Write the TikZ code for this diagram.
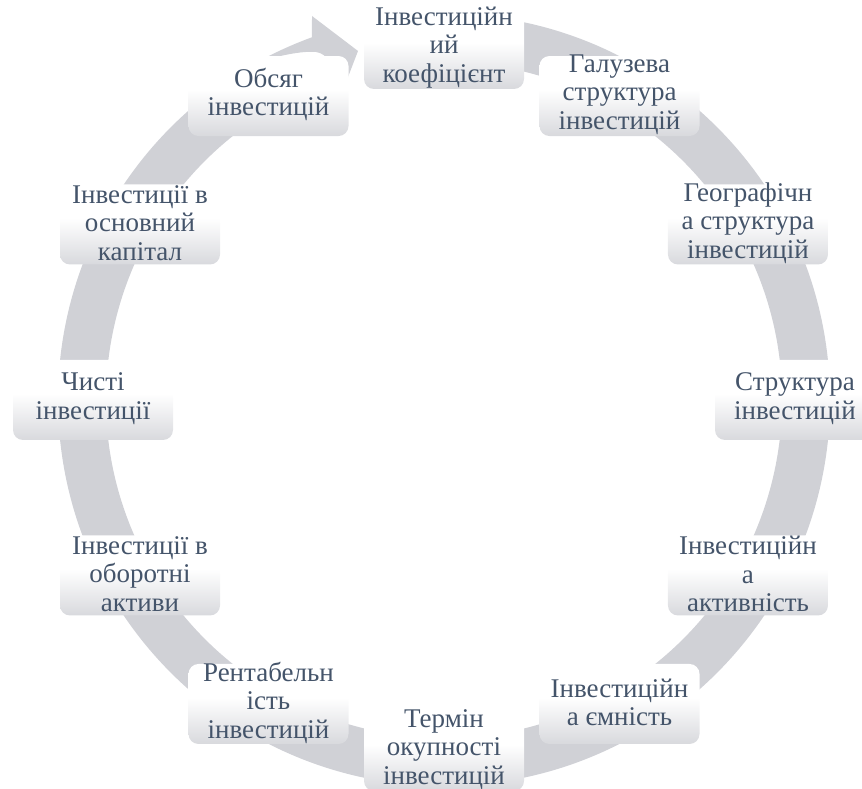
\documentclass[tikz,border=0pt]{standalone}
\usepackage{fontspec}
\setmainfont{Liberation Serif}
\definecolor{ringgray}{RGB}{208,209,214}
\definecolor{nodebot}{RGB}{216,217,221}
\definecolor{txt}{RGB}{68,84,106}
\pgfdeclareverticalshading{nodeshade}{100bp}{color(0bp)=(nodebot); color(25bp)=(nodebot); color(54bp)=(white); color(100bp)=(white)}
\tikzset{
  boxnode/.style={rounded corners=10pt, minimum width=160pt, minimum height=80pt, shading=nodeshade, inner sep=0pt},
  txtnode/.style={align=center, text=txt, font=\fontsize{27}{28.5}\selectfont, inner sep=0pt}
}
\begin{document}
\begin{tikzpicture}[x=1pt,y=1pt]
\useasboundingbox (0,0) rectangle (862,789);
\clip (0,0) rectangle (862,789);
\begin{scope}[shift={(444,389)}]
  % ring body
  \fill[ringgray] (95:386) arc[start angle=95,end angle=-242,radius=386] -- (-242:338) arc[start angle=-242,end angle=95,radius=338] -- cycle;
  % arrow head
  \fill[ringgray] (118:386) arc[start angle=118,end angle=110,radius=386] -- (-132,384) -- (-86,349) -- (-104,302) -- (-114,338)
     .. controls (-118,344) and (-122,347) .. (-128,348)
     .. controls (-140,349) and (-155,346) .. (-168,343) -- cycle;
  \foreach \ang/\nm/\txt in {
    90/n1/{Інвестиційн\\ий\\коефіцієнт},
    60/n2/{Галузева\\структура\\інвестицій},
    30/n3/{Географічн\\а структура\\інвестицій},
    0/n4/{Структура\\інвестицій},
    -30/n5/{Інвестиційн\\а\\активність},
    -60/n6/{Інвестиційн\\а ємність},
    -90/n7/{Термін\\окупності\\інвестицій},
    -120/n8/{Рентабельн\\ість\\інвестицій},
    -150/n9/{Інвестиції в\\оборотні\\активи},
    180/n10/{Чисті\\інвестиції},
    150/n11/{Інвестиції в\\основний\\капітал},
    120/n12/{Обсяг\\інвестицій}}{
    \node[boxnode] (b\nm) at (\ang:351) {};
    \node[txtnode] (t\nm) at ([yshift=1.5]b\nm.center) {\txt};
  }
\end{scope}
\end{tikzpicture}
\end{document}
